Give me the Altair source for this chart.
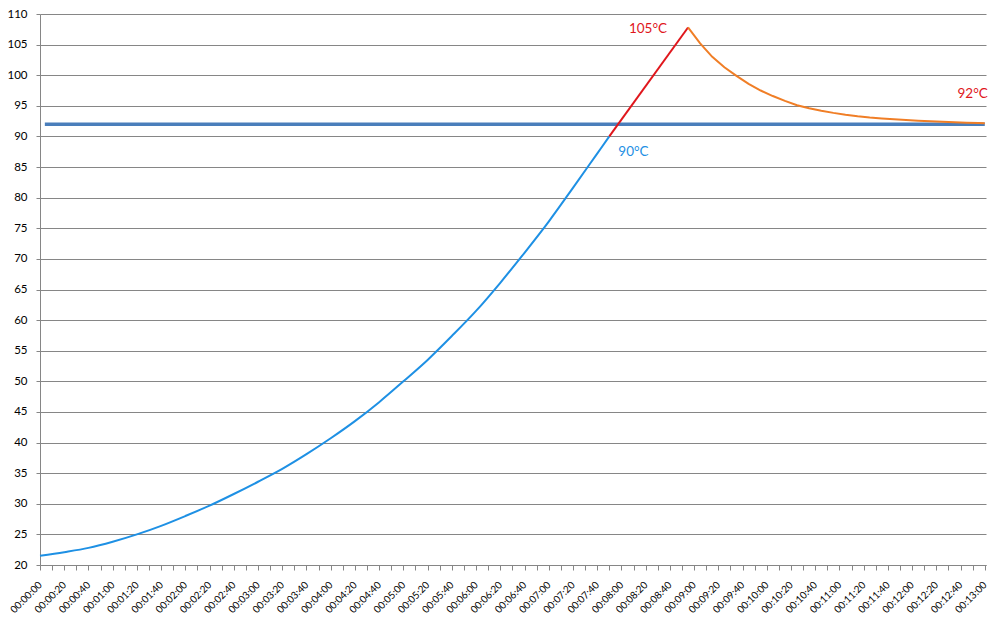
import json

import altair as alt
import pandas as pd

# elapsed time in seconds, temperature in °C
HEAT_T = [0, 20, 40, 60, 80, 100, 120, 140, 160, 180, 200, 220, 240,
          260, 280, 300, 320, 340, 360, 380, 400, 420, 440, 460, 470]
HEAT_V = [21.5, 22.1, 22.8, 23.8, 25.0, 26.4, 28.0, 29.7, 31.6, 33.6, 35.7, 38.1, 40.7,
          43.5, 46.6, 50.0, 53.5, 57.4, 61.5, 66.1, 71.0, 76.1, 81.6, 87.2, 90.0]

OVERSHOOT_T = [470, 535]
OVERSHOOT_V = [90.0, 107.8]

COOL_T = [535, 545, 555, 565, 575, 585, 595, 605, 615, 625, 635, 645, 655,
          665, 675, 685, 695, 705, 715, 725, 735, 745, 755, 765, 775, 780]
COOL_V = [107.8, 105.2, 103.0, 101.3, 99.9, 98.6, 97.5, 96.6, 95.8, 95.1, 94.6, 94.2, 93.85,
          93.55, 93.3, 93.1, 92.95, 92.8, 92.68, 92.58, 92.48, 92.4, 92.32, 92.25, 92.18, 92.15]

SET_T = [4, 780]
SET_V = [92, 92]

TICK_SECONDS = list(range(0, 790, 10))
TICK_LABELS = [f"00:{s // 60:02d}:{s % 60:02d}" for s in range(0, 790, 20)]
Y_TICKS = list(range(20, 115, 5))

FONT = "Lato"
GRID = "#868686"


def frame(t, v):
    return pd.DataFrame({"t": t, "v": v})


label_expr = f"datum.value % 20 == 0 ? {json.dumps(TICK_LABELS)}[datum.value / 20] : ''"

x_enc = alt.X(
    "t:Q",
    scale=alt.Scale(domain=[0, 781], nice=False, zero=False),
    axis=alt.Axis(
        values=TICK_SECONDS,
        labelExpr=label_expr,
        labelAngle=-45,
        labelAlign="right",
        labelBaseline="middle",
        labelOverlap=False,
        labelFontSize=10,
        grid=False,
        title=None,
        tickSize=5,
        labelPadding=13,
    ),
)
y_enc = alt.Y(
    "v:Q",
    scale=alt.Scale(domain=[20, 110], nice=False, zero=False),
    axis=alt.Axis(
        values=Y_TICKS,
        grid=True,
        title=None,
        tickSize=4,
        labelPadding=9,
        labelFontSize=11.5,
    ),
)

setpoint = alt.Chart(frame(SET_T, SET_V)).mark_line(
    color="#4A7EBB", strokeWidth=3.5
).encode(x=x_enc, y=y_enc)

heat = alt.Chart(frame(HEAT_T, HEAT_V)).mark_line(
    color="#1E90E4", strokeWidth=2, interpolate="monotone"
).encode(x=x_enc, y=y_enc)

overshoot = alt.Chart(frame(OVERSHOOT_T, OVERSHOOT_V)).mark_line(
    color="#E0161C", strokeWidth=2
).encode(x=x_enc, y=y_enc)

cool = alt.Chart(frame(COOL_T, COOL_V)).mark_line(
    color="#F07E26", strokeWidth=2
).encode(x=x_enc, y=y_enc)

text_style = dict(font=FONT, fontSize=13.5, baseline="middle")

peak_label = alt.Chart(frame([COOL_T[0]], [COOL_V[0]])).mark_text(
    text="105°C", color="#E0161C", align="right", dx=-21, dy=2, **text_style
).encode(x=x_enc, y=y_enc)

start_label = alt.Chart(frame([HEAT_T[-1]], [HEAT_V[-1]])).mark_text(
    text="90°C", color="#1E90E4", align="left", dx=9, dy=16, **text_style
).encode(x=x_enc, y=y_enc)

end_label = alt.Chart(frame([COOL_T[-1]], [COOL_V[-1]])).mark_text(
    text="92°C", color="#E0161C", align="right", dx=3, dy=-29, **text_style
).encode(x=x_enc, y=y_enc)

chart = (
    alt.layer(setpoint, heat, overshoot, cool, peak_label, start_label, end_label)
    .properties(
        width=946,
        height=551,
        autosize=alt.AutoSizeParams(type="none"),
        padding={"left": 32, "top": 6, "right": 5, "bottom": 52},
        background="white",
    )
    .configure_view(strokeWidth=0)
    .configure_axis(
        domainColor=GRID,
        tickColor=GRID,
        gridColor=GRID,
        gridWidth=1,
        labelFont=FONT,
        labelFontSize=11,
        labelColor="#000000",
    )
)

chart.save("out.html", embed_options={"renderer": "svg", "actions": False})
